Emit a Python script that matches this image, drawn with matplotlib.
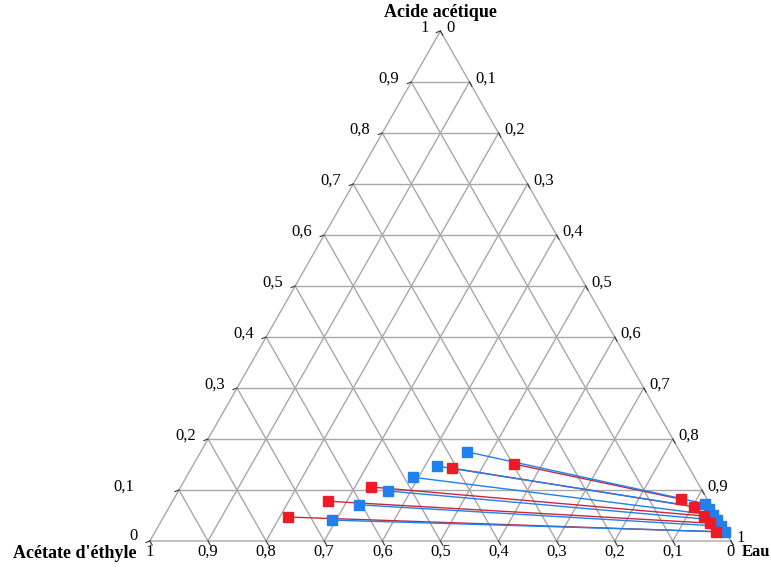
import matplotlib
matplotlib.use("Agg")
import matplotlib.pyplot as plt

plt.rcParams["font.family"] = ["Liberation Serif", "DejaVu Serif"]

# Mass fractions (acid, water); ethyl acetate = 1 - acid - water
# red series: organic phase (left end) / aqueous phase (right end)
red_org_acid = [0.047, 0.078, 0.106, 0.143, 0.151]
red_org_water = [0.214, 0.267, 0.327, 0.448, 0.551]
red_aq_acid = [0.018, 0.035, 0.049, 0.067, 0.082]
red_aq_water = [0.965, 0.946, 0.929, 0.903, 0.873]
# blue series
blue_org_acid = [0.041, 0.071, 0.098, 0.125, 0.147, 0.175]
blue_org_water = [0.293, 0.324, 0.361, 0.390, 0.420, 0.458]
blue_aq_acid = [0.018, 0.029, 0.041, 0.051, 0.063, 0.073]
blue_aq_water = [0.981, 0.968, 0.955, 0.943, 0.931, 0.919]

grid_levels = [0.1, 0.2, 0.3, 0.4, 0.5, 0.6, 0.7, 0.8, 0.9]
tick_values = [0.0, 0.1, 0.2, 0.3, 0.4, 0.5, 0.6, 0.7, 0.8, 0.9, 1.0]
tick_labels = ["0", "0,1", "0,2", "0,3", "0,4", "0,5", "0,6", "0,7", "0,8", "0,9", "1"]

RED = "#ee1a24"
RED_LINE = "#c8283c"
BLUE = "#1f80ee"
GRID = "#a8a8a8"
PX = 0.72  # points per pixel at dpi 100


def cart(acid, water):
    # bottom-left = ethyl acetate, bottom-right = water, top = acetic acid
    return water + acid / 2.0, acid


fig = plt.figure(figsize=(7.71, 5.69), dpi=100)
ax = fig.add_axes([0, 0, 1, 1])
ax.set_xlim(-0.258, 1.069)
ax.set_ylim(-0.0549, 1.0608)
ax.axis("off")

# triangle + grid
for v in grid_levels:
    # constant acid
    x0, y0 = cart(v, 0.0)
    x1, y1 = cart(v, 1 - v)
    ax.plot([x0, x1], [y0, y1], color=GRID, lw=1.0, zorder=1)
    # constant water
    x0, y0 = cart(0.0, v)
    x1, y1 = cart(1 - v, v)
    ax.plot([x0, x1], [y0, y1], color=GRID, lw=1.0, zorder=1)
    # constant ethyl acetate
    x0, y0 = cart(0.0, 1 - v)
    x1, y1 = cart(1 - v, 0.0)
    ax.plot([x0, x1], [y0, y1], color=GRID, lw=1.0, zorder=1)

corners = [cart(0, 0), cart(0, 1), cart(1, 0), cart(0, 0)]
ax.plot([c[0] for c in corners], [c[1] for c in corners], color=GRID, lw=1.0, zorder=1)

# tick labels
for v, lab in zip(tick_values, tick_labels):
    # bottom: ethyl acetate fraction (1 at left)
    x, y = cart(0.0, 1 - v)
    ax.annotate(lab, (x, y), xytext=(0, -11 * PX), textcoords="offset points",
                ha="center", va="center", fontsize=12)
    ax.plot([x, x + 0.004], [y, y - 0.008], color="#333333", lw=0.8)
    # left: acid fraction (the 0,1 label sits further out in the original)
    x, y = cart(v, 0.0)
    dx = -45 if lab == "0,1" else -12
    dy = 5 if lab == "0" else 3
    ax.annotate(lab, (x, y), xytext=(dx * PX, dy * PX), textcoords="offset points",
                ha="right", va="center", fontsize=12)
    ax.plot([x, x - 0.007], [y, y - 0.003], color="#333333", lw=0.8)
    # right: water fraction
    x, y = cart(1 - v, v)
    ax.annotate(lab, (x, y), xytext=(6 * PX, 3 * PX), textcoords="offset points",
                ha="left", va="center", fontsize=12)
    ax.plot([x, x + 0.004], [y, y - 0.008], color="#333333", lw=0.8)

# axis names
ax.annotate("Acide acétique", cart(1, 0), xytext=(0, 19 * PX), textcoords="offset points",
            ha="center", va="center", fontsize=13, fontweight="bold")
ax.annotate("Acétate d'éthyle", cart(0, 0), xytext=(-13 * PX, -12 * PX), textcoords="offset points",
            ha="right", va="center", fontsize=13, fontweight="bold")
ax.annotate("Eau", cart(0, 1), xytext=(11 * PX, -11 * PX), textcoords="offset points",
            ha="left", va="center", fontsize=12, fontweight="bold")

# tie lines
for a1, w1, a2, w2 in zip(red_org_acid, red_org_water, red_aq_acid, red_aq_water):
    x1, y1 = cart(a1, w1)
    x2, y2 = cart(a2, w2)
    ax.plot([x1, x2], [y1, y2], color=RED_LINE, lw=1.0, zorder=3)
    ax.plot([x1, x2], [y1, y2], ls="none", marker="s", ms=6.5,
            mfc=RED, mec=RED, zorder=5)

for a1, w1, a2, w2 in zip(blue_org_acid, blue_org_water, blue_aq_acid, blue_aq_water):
    x1, y1 = cart(a1, w1)
    x2, y2 = cart(a2, w2)
    ax.plot([x1, x2], [y1, y2], color=BLUE, lw=1.0, marker="s", ms=6.5,
            mfc=BLUE, mec=BLUE, zorder=4)

fig.savefig("out.png", dpi=100)
plt.close(fig)
